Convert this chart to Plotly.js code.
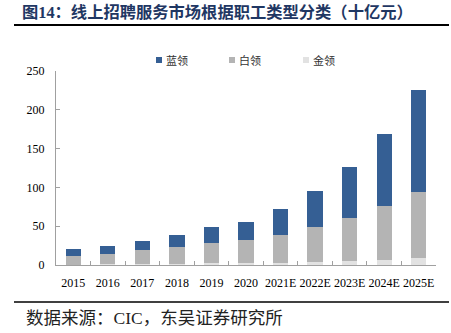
<!DOCTYPE html>
<html><head><meta charset="utf-8">
<script src="https://cdn.plot.ly/plotly-3.0.1.min.js"></script>
<style>
html,body{margin:0;padding:0;background:#fff}
#c{width:451px;height:333px}
</style>
</head><body><div id="c"></div>
<script>
const years = ['2015','2016','2017','2018','2019','2020','2021E','2022E','2023E','2024E','2025E'];
const blueCollar = [7.8,9.9,12.5,15.9,20.6,24.4,33.1,46.9,65.7,92.4,131.1];
const whiteCollar = [11.7,14.1,17.7,21.6,26.6,29.1,36.1,45.0,55.9,69.2,85.4];
const goldCollar = [0.5,0.7,1.0,1.4,2.0,2.5,3.2,3.7,4.9,6.6,8.4];
const seriesNames = ['蓝领','白领','金领'];
const seriesColors = ['#355f94','#b4b4b4','#e2e2e2'];
const titleText = '图14：线上招聘服务市场根据职工类型分类（十亿元）';
const sourceText = '数据来源：CIC，东吴证券研究所';

const F = 'Liberation Serif, Times New Roman, Noto Sans CJK SC, serif';
const W = 451, H = 333, ML = 56, MR = 15, MT = 71, MB = 68;
const PW = W - ML - MR, PH = H - MT - MB;
const px2x = p => (p - ML) / PW;
const py2y = p => (H - MB - p) / PH;

const traces = [
  {type:'bar', x:years, y:goldCollar, name:seriesNames[2], marker:{color:seriesColors[2]}},
  {type:'bar', x:years, y:whiteCollar, name:seriesNames[1], marker:{color:seriesColors[1]}},
  {type:'bar', x:years, y:blueCollar, name:seriesNames[0], marker:{color:seriesColors[0]}}
];

const annotations = [
  {xref:'paper', yref:'paper', x:px2x(20), y:py2y(13), xanchor:'left', yanchor:'middle',
   showarrow:false, text:'<b>'+titleText+'</b>',
   font:{family:'Liberation Serif, Noto Sans CJK SC, serif', size:16.3, color:'#1f3763'}},
  {xref:'paper', yref:'paper', x:px2x(24), y:py2y(318), xanchor:'left', yanchor:'middle',
   showarrow:false, text:sourceText,
   font:{family:'Liberation Serif, Noto Sans CJK SC, serif', size:17.5, color:'#222'}}
];
const legX = [156, 229, 303];
for (let i = 0; i < 3; i++) {
  annotations.push({xref:'paper', yref:'paper', x:px2x(legX[i]), y:py2y(60), xanchor:'left', yanchor:'middle',
    showarrow:false, text:' ', width:6, height:6, bgcolor:seriesColors[i], borderpad:0, borderwidth:0,
    font:{size:1}});
  annotations.push({xref:'paper', yref:'paper', x:px2x(legX[i] + 8), y:py2y(60), xanchor:'left', yanchor:'middle',
    showarrow:false, text:seriesNames[i],
    font:{family:'Noto Sans CJK SC, sans-serif', size:11, color:'#333'}});
}

const layout = {
  width:W, height:H,
  margin:{l:ML, r:MR, t:MT, b:MB},
  barmode:'stack', bargap:0.56,
  paper_bgcolor:'#fff', plot_bgcolor:'#fff',
  font:{family:F, size:12, color:'#000'},
  showlegend:false,
  xaxis:{type:'category', showline:true, linecolor:'#a0a0a0', linewidth:1,
         ticks:'inside', tickson:'boundaries', ticklen:4, tickcolor:'#a0a0a0',
         tickangle:0, ticklabelstandoff:7, tickfont:{family:F, size:12}, showgrid:false},
  yaxis:{range:[0,250], dtick:50, showline:true, linecolor:'#a0a0a0', linewidth:1,
         ticks:'inside', ticklen:4, tickcolor:'#a0a0a0', showgrid:false, zeroline:false,
         ticklabelstandoff:8, tickfont:{family:F, size:12}},
  shapes:[
    {type:'line', layer:'above', xref:'paper', yref:'paper', x0:px2x(14), x1:px2x(449), y0:py2y(25), y1:py2y(25),
     line:{color:'#000000', width:2}},
    {type:'line', layer:'above', xref:'paper', yref:'paper', x0:px2x(14), x1:px2x(449), y0:py2y(302), y1:py2y(302),
     line:{color:'#000000', width:1.5}}
  ],
  annotations:annotations
};
Plotly.newPlot('c', traces, layout, {displayModeBar:false, staticPlot:true});
</script></body></html>
